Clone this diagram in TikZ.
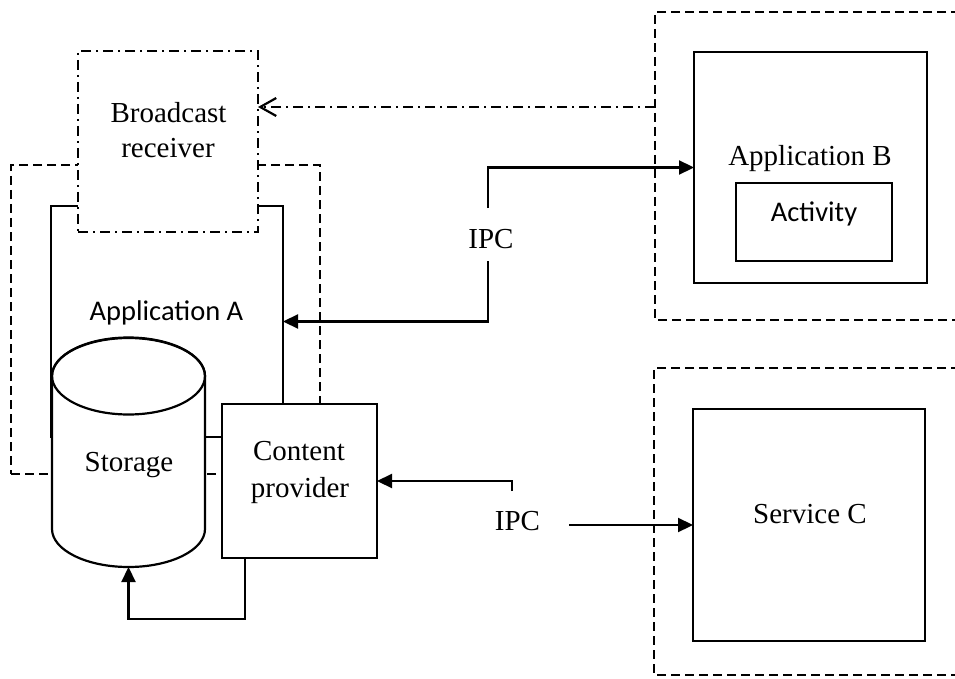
\documentclass[tikz,border=0pt]{standalone}
\usepackage{fontspec}
\setmainfont{Liberation Serif}
\newfontfamily\carlitofont{Carlito}
\usetikzlibrary{arrows.meta}
\begin{document}
\begin{tikzpicture}[x=1pt,y=-1pt, line width=2.2pt,
  box/.style={draw, rectangle, inner sep=0pt, outer sep=0pt, fill=white},
  lbl/.style={inner sep=0pt, anchor=base, font=\fontsize{29}{35}\selectfont},
  clbl/.style={inner sep=0pt, anchor=base, font=\carlitofont\fontsize{28.5}{34}\selectfont},
  dsh/.style={dash pattern=on 9pt off 5pt},
  dshdot/.style={dash pattern=on 10pt off 5pt on 2pt off 5pt},
  arr/.style={-{Triangle[length=15pt,width=14pt]}},
  openarr/.style={-{Straight Barb[length=16pt,width=18pt]}}
]
\useasboundingbox (0,0) rectangle (955,679);
\clip (0,0) rectangle (955,679);

% Application A
\node[box, dsh, fill=none, minimum width=309pt, minimum height=309pt] (boxA) at (165.5,319.5) {};
\node[box, fill=none, minimum width=232pt, minimum height=231pt] (appA) at (167,321.5) {};
\node[clbl] (appAl) at (166.5,320) {Application A};

% Storage cylinder
\filldraw[fill=white] (52,376) -- (52,529)
  arc[start angle=180,end angle=360,x radius=76.5pt,y radius=38pt]
  -- (205,376)
  arc[start angle=0,end angle=180,x radius=76.5pt,y radius=38pt] -- cycle;
\draw (128.5,376) ellipse[x radius=76.5pt, y radius=38.5pt];
\coordinate (cylbot) at (128.5,567);
\node[lbl] (stor) at (129,471) {Storage};

% Content provider
\node[box, minimum width=155pt, minimum height=154pt] (cp) at (299.5,481) {};
\node[lbl] (cpl1) at (299,460) {Content};
\node[lbl] (cpl2) at (300,497) {provider};

% Broadcast receiver
\node[box, dshdot, minimum width=180pt, minimum height=181pt] (bc) at (168,141.5) {};
\node[lbl] (bcl1) at (168.5,122.7) {Broadcast};
\node[lbl] (bcl2) at (168,157.7) {receiver};

% Application B
\draw[dsh] (960,12) -- (655,12) -- (655,320) -- (960,320);
\node[box, minimum width=233pt, minimum height=231pt] (appB) at (810.5,167.5) {};
\node[lbl] (appBl) at (810,166) {Application B};
\node[box, minimum width=156pt, minimum height=78pt] (act) at (814,222) {};
\node[clbl] (actl) at (814,221) {Activity};

% Service C
\draw[dsh] (960,368) -- (654,368) -- (654,675) -- (960,675);
\node[box, minimum width=232pt, minimum height=232pt] (svc) at (809,525) {};
\node[lbl] (svcl) at (810,523) {Service C};

% Connectors
\coordinate (ddstart) at (655,107);
\draw[dshdot, openarr] (ddstart) -- (ddstart -| bc.east);

\node[lbl] (ipc1) at (491,248) {IPC};
\coordinate (i1t) at (488,208);
\coordinate (i1b) at (488,261);
\draw[arr] (i1t) |- (appB.west);
\draw[arr] (i1b) |- (appA.east);

\node[lbl] (ipc2) at (517.5,530) {IPC};
\coordinate (i2t) at (512,491);
\coordinate (i2r) at (569,525);
\draw[arr] (i2t) |- (cp.east);
\draw[arr] (i2r) -- (svc.west);

\coordinate (cpb) at (245,558);
\draw[arr] (cpb) -- ++(0,61) -| (cylbot);
\end{tikzpicture}
\end{document}
